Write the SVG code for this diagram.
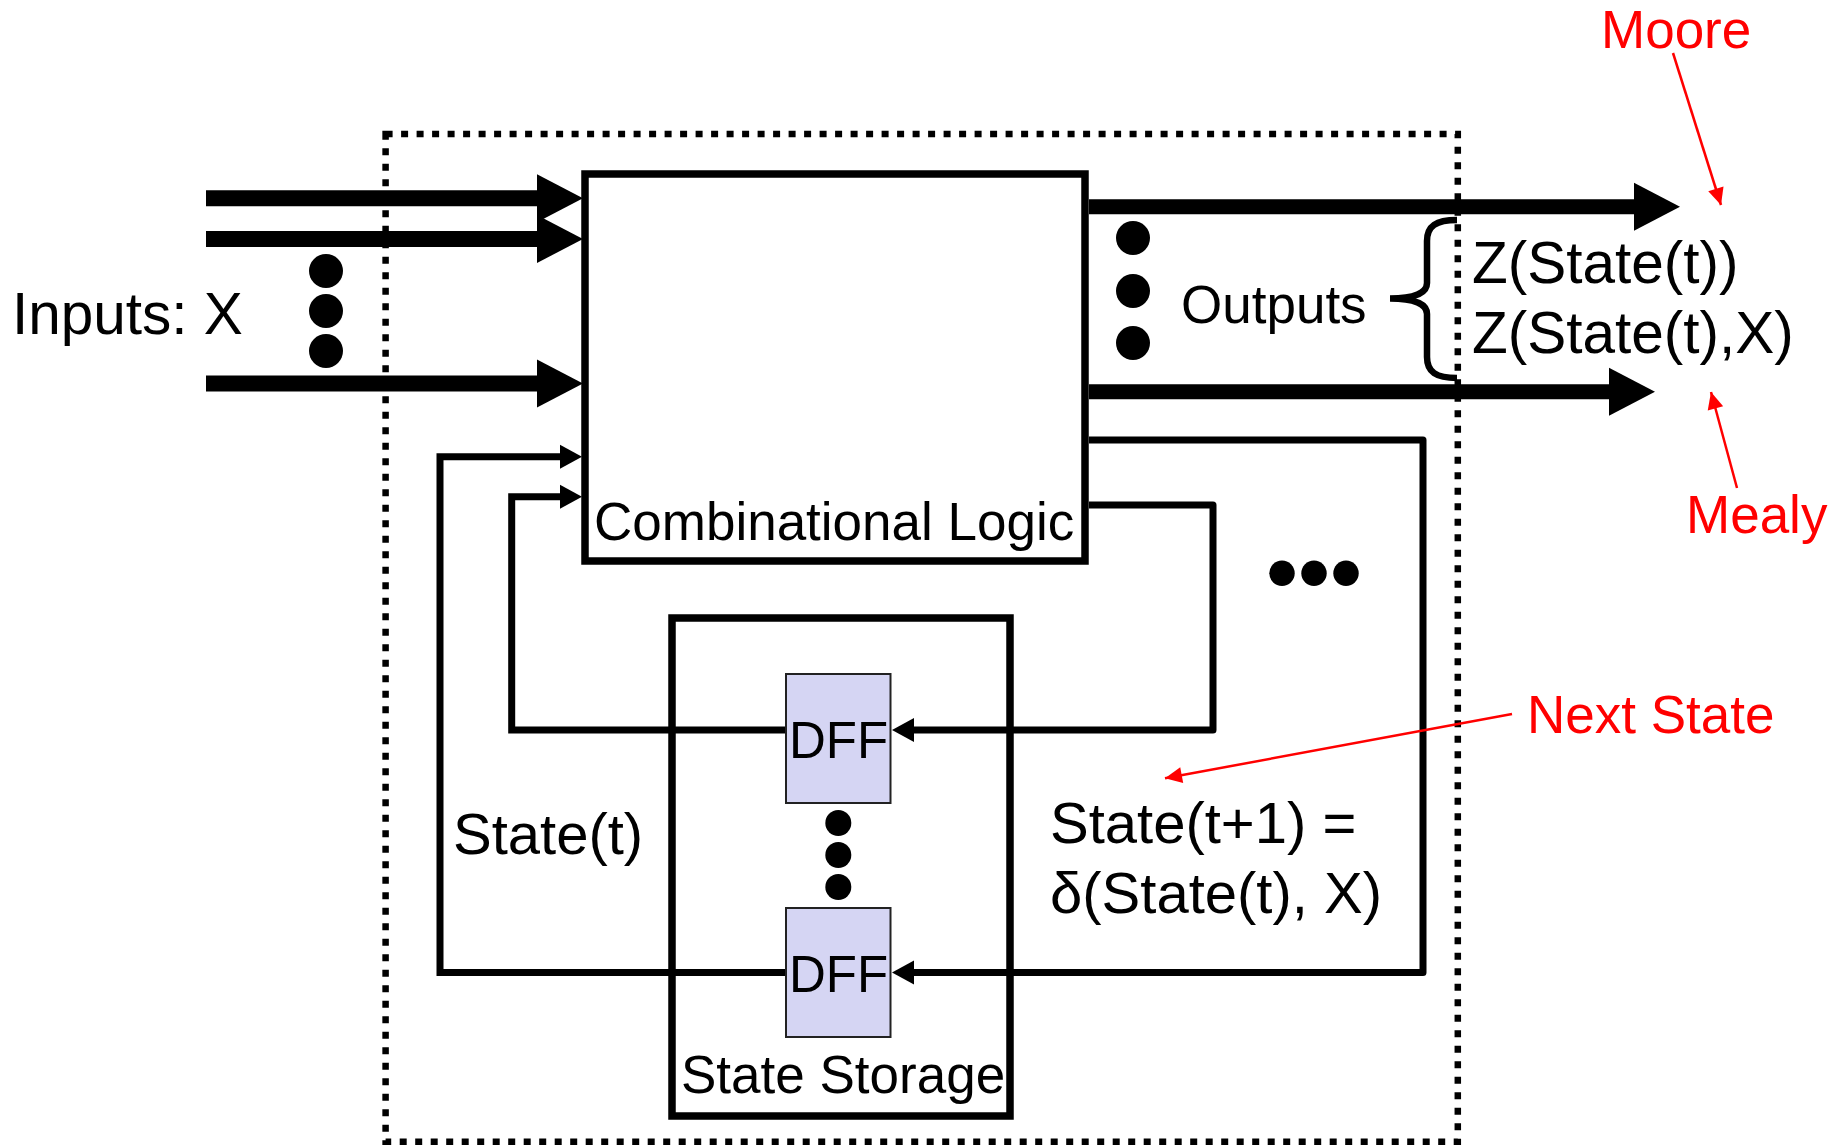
<svg xmlns="http://www.w3.org/2000/svg" width="1839" height="1146" viewBox="0 0 1839 1146">
<defs>
<style>
text{font-family:"Liberation Sans",Arial,sans-serif;fill:#000}
.red{fill:#ff0000}
.box{fill:none;stroke:#000;stroke-width:7.5}
.dff{fill:#d5d5f3;stroke:#222;stroke-width:2}
.thick{fill:none;stroke:#000;stroke-width:16}
.wire{fill:none;stroke:#000;stroke-width:7;stroke-linejoin:miter}
.ann{fill:none;stroke:#ff0000;stroke-width:2.5}
.dot{fill:#000}
</style>
<marker id="bigArrow" markerUnits="userSpaceOnUse" markerWidth="46" markerHeight="48" refX="0" refY="24" orient="auto" overflow="visible">
<path d="M0,0 L46,24 L0,48 z" fill="#000"/>
</marker>
<marker id="smallArrow" markerUnits="userSpaceOnUse" markerWidth="22" markerHeight="24" refX="0" refY="12" orient="auto" overflow="visible">
<path d="M0,0 L22,12 L0,24 z" fill="#000"/>
</marker>
<marker id="redArrow" markerUnits="userSpaceOnUse" markerWidth="17" markerHeight="16" refX="17" refY="8" orient="auto" overflow="visible">
<path d="M0,0 L17,8 L0,16 z" fill="#ff0000"/>
</marker>
</defs>
<rect x="0" y="0" width="1839" height="1146" fill="#fff"/>

<g id="fsm-boundary">
<rect x="385.6" y="134" width="1072.2" height="1007.7" fill="none" stroke="#000" stroke-width="6.5" stroke-dasharray="7 8.5"/>
</g>

<g id="connectors">
<path class="thick" d="M206,198.3 H537" marker-end="url(#bigArrow)"/>
<path class="thick" d="M206,239 H537" marker-end="url(#bigArrow)"/>
<path class="thick" d="M206,383.5 H537" marker-end="url(#bigArrow)"/>
<path class="thick" style="stroke-width:15" d="M1089,206.7 H1634" marker-end="url(#bigArrow)"/>
<path class="thick" style="stroke-width:15" d="M1089,391.7 H1609" marker-end="url(#bigArrow)"/>
<path class="wire" d="M786,972.5 H440 V456.7 H560" marker-end="url(#smallArrow)"/>
<path class="wire" d="M786,730 H511.7 V496.7 H560" marker-end="url(#smallArrow)"/>
<path class="wire" style="stroke-linejoin:round" d="M1089,440 H1423 V972.5 H914" marker-end="url(#smallArrow)"/>
<path class="wire" style="stroke-linejoin:round" d="M1089,505 H1213 V730 H914" marker-end="url(#smallArrow)"/>
<path id="moore-arrow" class="ann" d="M1673,53 L1721,205" marker-end="url(#redArrow)"/>
<path id="mealy-arrow" class="ann" d="M1737,488 L1711,392" marker-end="url(#redArrow)"/>
<path id="next-state-arrow" class="ann" d="M1512,714 L1165,778.3" marker-end="url(#redArrow)"/>
<path id="output-brace" fill="none" stroke="#000" stroke-width="6.5" d="M1457,220 C1436,220 1427,226 1427,241 L1427,283 C1427,293 1414,298.5 1390,298.5 C1414,298.5 1427,304 1427,314 L1427,357 C1427,372 1436,378 1457,378"/>
</g>

<g id="inputs">
<text x="12" y="334" font-size="58.5">Inputs: X</text>
<circle class="dot" cx="326" cy="271" r="17"/>
<circle class="dot" cx="326" cy="311" r="17"/>
<circle class="dot" cx="326" cy="351" r="17"/>
</g>

<g id="combinational-logic">
<rect class="box" x="585" y="174" width="500" height="387"/>
<text x="594" y="540" font-size="53">Combinational Logic</text>
</g>

<g id="outputs">
<circle class="dot" cx="1133" cy="238" r="17"/>
<circle class="dot" cx="1133" cy="291" r="17"/>
<circle class="dot" cx="1133" cy="343" r="17"/>
<text x="1181" y="322.7" font-size="53">Outputs</text>
<text x="1472" y="283.3" font-size="58.5">Z(State(t))</text>
<text x="1472" y="353.3" font-size="58.5">Z(State(t),X)</text>
</g>

<g id="moore-label"><text class="red" x="1601" y="47.7" font-size="53">Moore</text></g>
<g id="mealy-label"><text class="red" x="1686" y="533.3" font-size="53">Mealy</text></g>
<g id="next-state-label"><text class="red" x="1527" y="733" font-size="53">Next State</text></g>

<g id="state-storage">
<rect class="box" x="672" y="618" width="338" height="498"/>
<text x="681" y="1093" font-size="53">State Storage</text>
</g>

<g id="dff-1">
<rect class="dff" x="786" y="674" width="104.5" height="129"/>
<text x="789" y="758.3" font-size="51">DFF</text>
</g>

<g id="dff-dots">
<circle class="dot" cx="838.3" cy="823" r="13"/>
<circle class="dot" cx="838.3" cy="855" r="13"/>
<circle class="dot" cx="838.3" cy="887" r="13"/>
</g>

<g id="dff-n">
<rect class="dff" x="786" y="908" width="104.5" height="129"/>
<text x="789" y="991.7" font-size="51">DFF</text>
</g>

<g id="next-state-dots">
<circle class="dot" cx="1282" cy="573.3" r="12.7"/>
<circle class="dot" cx="1314" cy="573.3" r="12.7"/>
<circle class="dot" cx="1346" cy="573.3" r="12.7"/>
</g>

<g id="state-labels">
<text x="453" y="854" font-size="58">State(t)</text>
<text x="1050" y="843.3" font-size="58">State(t+1) =</text>
<text x="1050" y="913.3" font-size="58">δ(State(t), X)</text>
</g>
</svg>
